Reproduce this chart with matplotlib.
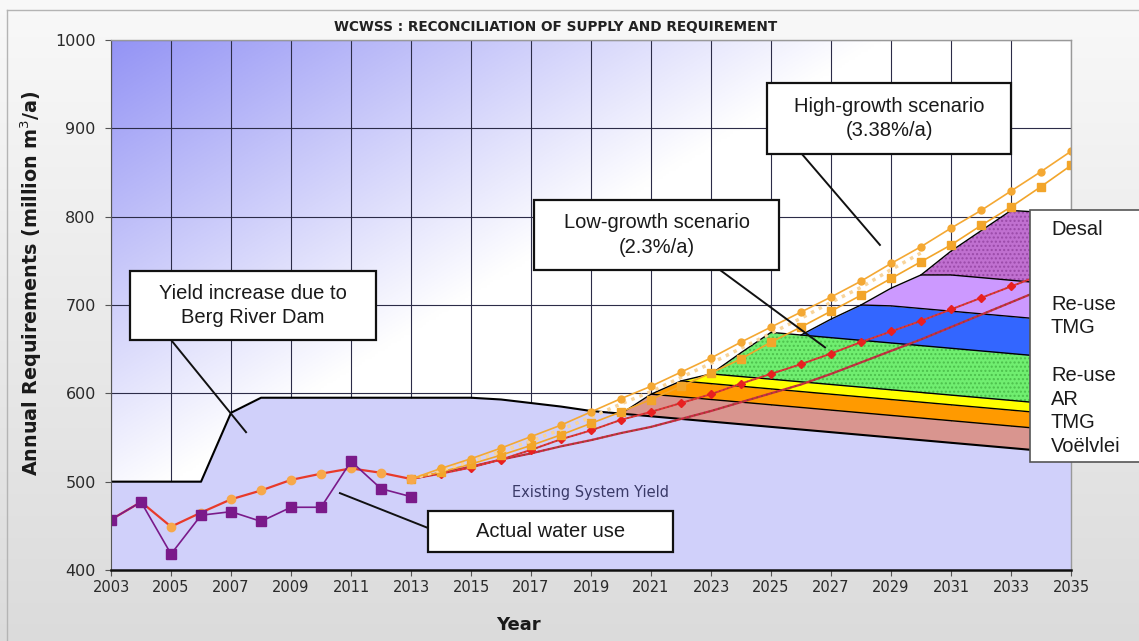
import numpy as np
import matplotlib.pyplot as plt
from matplotlib.patches import Rectangle

years = list(range(2003, 2036))
system_yield = [500, 500, 500, 500, 578, 595, 595, 595, 595, 595, 595, 595, 595,
                593, 589, 585, 580, 577, 574, 571, 568, 565, 562, 559, 556, 553,
                550, 547, 544, 541, 538, 535, 532]

hist_years = list(range(2003, 2014))
actual_use = [457, 477, 418, 462, 466, 455, 471, 471, 523, 492, 483]
requirement_hist = [457, 477, 449, 465, 480, 490, 502, 509, 515, 510, 503]

proj_years = list(range(2013, 2036))
high_growth = [503, 515, 526, 538, 551, 564, 579, 594, 608, 624, 640, 658, 675,
               692, 709, 727, 747, 766, 787, 807, 829, 851, 874]
high_growth_sq = [503, 511, 520, 530, 541, 553, 566, 579, 593, 608, 623, 639, 658,
                  675, 693, 711, 730, 749, 768, 790, 811, 834, 858]
mid_years = list(range(2013, 2031))
high_growth_mid = [503, 513, 523, 534, 546, 559, 573, 588, 602, 618, 634, 651, 668,
                   685, 703, 720, 740, 759]
low_growth = [503, 509, 516, 525, 536, 548, 558, 570, 579, 589, 599, 611, 622,
              633, 645, 658, 670, 682, 695, 708, 721, 734, 747]
low_growth_alt = [503, 510, 517, 525, 532, 540, 547, 555, 562, 571, 580, 590, 600,
                  610, 622, 635, 648, 661, 675, 689, 703, 717, 731]

# supply schemes stacked on the existing yield, 2019-2035
scheme_years = list(range(2019, 2036))
voelvlei = [0, 0, 25, 25, 25, 25, 25, 25, 25, 25, 25, 25, 25, 25, 25, 25, 25]
tmg_1 = [0, 0, 0, 18, 18, 18, 18, 18, 18, 18, 18, 18, 18, 18, 18, 18, 18]
ar = [0, 0, 0, 0, 11, 11, 11, 11, 11, 11, 11, 11, 11, 11, 11, 11, 11]
reuse_1 = [0, 0, 0, 0, 0, 27, 53, 53, 53, 53, 53, 53, 53, 53, 53, 53, 53]
tmg_2 = [0, 0, 0, 0, 0, 0, 0, 0, 21, 40, 42, 42, 42, 42, 42, 42, 42]
reuse_2 = [0, 0, 0, 0, 0, 0, 0, 0, 0, 0, 20, 38, 41, 41, 41, 41, 41]
desal = [0, 0, 0, 0, 0, 0, 0, 0, 0, 0, 0, 0, 27, 53, 79, 80, 81]

schemes = [voelvlei, tmg_1, ar, reuse_1, tmg_2, reuse_2, desal]
scheme_colors = ['#d9958f', '#ff9a00', '#ffff00', '#70ee70', '#3366ff', '#cc99ff', '#c070d0']
scheme_hatch = [None, None, None, '....', None, None, '....']
hatch_colors = [None, None, None, '#4cc04c', None, None, '#9a4aa8']

right_labels = ['Desal', 'Re-use\nTMG', 'Re-use\nAR\nTMG\nVoëlvlei']

fig = plt.figure(figsize=(11.39, 6.41), dpi=100)

# figure background
bg = fig.add_axes([0, 0, 1, 1])
grad = np.linspace(0, 1, 256).reshape(-1, 1)
top_c = np.array([0.975, 0.975, 0.975])
bot_c = np.array([0.86, 0.86, 0.86])
img = top_c + (bot_c - top_c) * grad[:, :, None]
bg.imshow(np.repeat(img, 2, axis=1), aspect='auto', extent=[0, 1, 0, 1], origin='upper')
bg.plot([0.0065, 0.0065], [0, 0.984], color='#b4b4b4', lw=1)
bg.plot([0.0065, 1], [0.984, 0.984], color='#b4b4b4', lw=1)
bg.set_xlim(0, 1)
bg.set_ylim(0, 1)
bg.axis('off')

ax = fig.add_axes([0.0975, 0.1108, 0.8428, 0.8268])
ax.set_xlim(2003, 2035)
ax.set_ylim(400, 1000)

# gradient plot background
u = np.linspace(0, 1, 300)
v = np.linspace(0, 1, 200)
U, V = np.meshgrid(u, v)
w = np.clip(1 - U / 0.8 - (1 - V) / 0.9, 0, 1)
blue = np.array([0.58, 0.58, 0.96])
white = np.array([1.0, 1.0, 1.0])
gimg = white + (blue - white) * w[:, :, None]
ax.imshow(gimg, extent=[2003, 2035, 400, 1000], origin='lower', aspect='auto', zorder=0)

ax.set_xticks(range(2003, 2036, 2))
ax.set_yticks(range(400, 1001, 100))
ax.set_axisbelow(True)
ax.grid(True, color='#2c2c48', lw=0.8)

# existing system yield
ax.fill_between(years, 400, system_yield, color='#d0d0fa', lw=0, zorder=1)
ax.plot(years, system_yield, color='black', lw=1.5, zorder=2.5)

base = np.array(system_yield[16:], dtype=float)
for vals, col, hat, hcol in zip(schemes, scheme_colors, scheme_hatch, hatch_colors):
    vals = np.array(vals, dtype=float)
    start = max(0, int(np.argmax(vals > 0)) - 1)
    xs = scheme_years[start:]
    lo = base[start:]
    hi = base[start:] + vals[start:]
    ax.fill_between(xs, lo, hi, color=col, lw=0, zorder=2)
    if hat:
        ax.fill_between(xs, lo, hi, facecolor='none', edgecolor=hcol, hatch=hat, lw=0, zorder=2.1)
    ax.plot(xs, hi, color='black', lw=1, zorder=2.4)
    base = base + vals

# requirement lines
ax.plot(proj_years, low_growth_alt, color='#cc2a45', lw=1.6, zorder=3)
ax.plot(proj_years, low_growth_alt, color='#8c4a2a', lw=1.2, ls=(0, (1, 2)), zorder=3.1)
ax.plot(proj_years, low_growth, color='#e8303a', lw=1.4, zorder=3.2)
ax.plot(proj_years, low_growth, color='#9a4a2a', lw=1.0, ls=(0, (1, 2)), zorder=3.3)
ax.plot(proj_years, low_growth, ls='none', marker='D', ms=4, color='#e82020', zorder=3.4)
ax.plot(proj_years, high_growth_sq, color='#f2a52a', lw=1.2, marker='s', ms=6, zorder=3.5)
ax.plot(mid_years, high_growth_mid, color='#f8d49a', lw=2.5, ls=(0, (1, 1.5)), zorder=3.6)
ax.plot(proj_years, high_growth, color='#f4a833', lw=1.2, marker='o', ms=5, zorder=3.7)

ax.plot(hist_years, requirement_hist, color='#e83a2a', lw=1.6, marker='o', ms=6,
        mfc='#f7a84a', mec='#f7a84a', zorder=3.8)
ax.plot(hist_years, actual_use, color='#7a1a8a', lw=1.2, marker='s', ms=6.5,
        mfc='#7a1a8a', mec='#7a1a8a', zorder=3.9)

ax.text(2018.97, 488, 'Existing System Yield', ha='center', va='center',
        fontsize=10.5, color='#3a3a68', zorder=4)

# annotation boxes
boxes = [
    (2003.63, 660.4, 8.2, 78.1, 'Yield increase due to\nBerg River Dam', (2005.0, 660.4), (2007.5, 556)),
    (2017.1, 739.6, 8.17, 79.3, 'Low-growth scenario\n(2.3%/a)', (2023.3, 739.6), (2026.8, 652)),
    (2024.87, 870.9, 8.13, 80.4, 'High-growth scenario\n(3.38%/a)', (2026.03, 870.9), (2028.63, 768)),
    (2013.57, 420.4, 8.16, 46.4, 'Actual water use', (2013.57, 447.5), (2010.63, 487)),
]
for x0, y0, bw, bh, txt, p0, p1 in boxes:
    ax.plot([p0[0], p1[0]], [p0[1], p1[1]], color='#111111', lw=1.4, zorder=5)
    ax.add_patch(Rectangle((x0, y0), bw, bh, facecolor='white', edgecolor='#111111',
                           lw=1.6, zorder=6, clip_on=False))
    ax.text(x0 + bw / 2, y0 + bh / 2, txt, ha='center', va='center', fontsize=14.5,
            family='Liberation Sans', color='#1a1a1a', linespacing=1.35, zorder=7)

# scheme labels at the right
ax.add_patch(Rectangle((2033.63, 522.3), 5, 285.2, facecolor='white', edgecolor='#555555',
                       lw=1.2, zorder=6, clip_on=False))
label_pos = [784.9, 687.5, 580]
for txt, yy in zip(right_labels, label_pos):
    ax.text(2034.33, yy, txt, ha='left', va='center', fontsize=14.5,
            family='Liberation Sans', color='#1a1a1a', linespacing=1.3, zorder=7, clip_on=False)

for side in ['top', 'right']:
    ax.spines[side].set_color('#999999')
    ax.spines[side].set_linewidth(1)
ax.spines['left'].set_color('#555555')
ax.spines['bottom'].set_color('#111111')
ax.spines['bottom'].set_linewidth(1.8)
for sp in ax.spines.values():
    sp.set_zorder(5)
ax.tick_params(axis='both', direction='out', length=4, color='#555555', labelcolor='#2a2a2a')
ax.tick_params(axis='x', labelsize=10.5)
ax.tick_params(axis='y', labelsize=11.5, pad=7)

fig.text(0.488, 0.958, 'WCWSS : RECONCILIATION OF SUPPLY AND REQUIREMENT', ha='center',
         va='center', fontsize=9.8, fontweight='bold', color='#222222')
fig.text(0.027, 0.558, 'Annual Requirements (million m$^3$/a)', rotation=90, ha='center',
         va='center', fontsize=13.8, fontweight='bold', color='#1a1a1a')
fig.text(0.455, 0.025, 'Year', ha='center', va='center', fontsize=13,
         fontweight='bold', color='#1a1a1a')

fig.savefig('out.png', dpi=100)
